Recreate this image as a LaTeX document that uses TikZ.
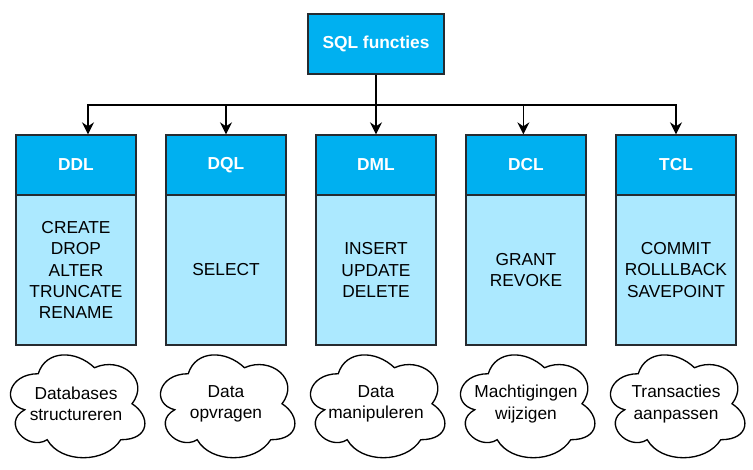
\documentclass[tikz,border=0pt]{standalone}
\usepackage{fontspec}
\setmainfont{Liberation Sans}
\usetikzlibrary{arrows.meta,positioning}
\definecolor{headblue}{RGB}{0,176,240}
\definecolor{bodyblue}{RGB}{172,233,255}
\definecolor{boxline}{RGB}{38,43,48}
\tikzset
{
    headbox/.style  = {rectangle, draw=boxline, fill=headblue, line width=1pt, text=white, align=center, font=\bfseries\fontsize{13}{16}\selectfont, minimum width=90pt, minimum height=45pt},
    bodybox/.style  = {rectangle, draw=boxline, fill=bodyblue, line width=1pt, align=center, font=\fontsize{13}{16}\selectfont, minimum width=90pt, minimum height=112.5pt},
    cloudbox/.style = {rectangle, align=center, font=\fontsize{13}{16}\selectfont, minimum width=112.5pt, minimum height=90pt},
    cloudline/.style = {draw=black, line width=1pt},
    link/.style     = {draw=black, line width=1.1pt, -{Stealth[length=9pt,width=9pt,inset=3pt]}}
}
% cloud outline around a named node
\newcommand{\cloudshape}[1]{%
\draw[cloudline, shift={(#1.north west)}, x=112.5pt, y=-90pt]
 (0.25,0.25) .. controls (0.05,0.25) and (0,0.5) .. (0.16,0.55)
 .. controls (0,0.66) and (0.18,0.9) .. (0.31,0.8)
 .. controls (0.4,1) and (0.7,1) .. (0.8,0.8)
 .. controls (1,0.8) and (1,0.6) .. (0.875,0.5)
 .. controls (1,0.3) and (0.8,0.1) .. (0.625,0.2)
 .. controls (0.5,0.05) and (0.3,0.05) .. (0.25,0.25) -- cycle;}

\begin{document}
\begin{tikzpicture}[x=0.75pt, y=-0.75pt]
\useasboundingbox (0,0) rectangle (753,470);
\newcommand\YH{165}
\newcommand\YT{44}
\node (sql)   [headbox, minimum width=102pt]   at (376,\YT)                    {SQL functies};
\node (ddl)   [headbox]                        at (76,\YH)                     {DDL};
\node (dql)   [headbox]                        at (226,\YH)                    {DQL};
\node (dml)   [headbox]                        at (376,\YH)                    {DML};
\node (dcl)   [headbox]                        at (526,\YH)                    {DCL};
\node (tcl)   [headbox]                        at (676,\YH)                    {TCL};
\node (ddlb)  [bodybox]                        at ([shift=({0,105})]ddl)       {CREATE\\DROP\\ALTER\\TRUNCATE\\RENAME};
\node (dqlb)  [bodybox]                        at ([shift=({0,105})]dql)       {SELECT};
\node (dmlb)  [bodybox]                        at ([shift=({0,105})]dml)       {INSERT\\UPDATE\\DELETE};
\node (dclb)  [bodybox]                        at ([shift=({0,105})]dcl)       {GRANT\\REVOKE};
\node (tclb)  [bodybox]                        at ([shift=({0,105})]tcl)       {COMMIT\\ROLLLBACK\\SAVEPOINT};
\node (ddlc)  [cloudbox]                       at ([shift=({0,134})]ddlb)      {Databases\\structureren};
\node (dqlc)  [cloudbox]                       at ([shift=({0,134})]dqlb)      {Data\\opvragen};
\node (dmlc)  [cloudbox]                       at ([shift=({0,134})]dmlb)      {Data\\manipuleren};
\node (dclc)  [cloudbox]                       at ([shift=({0,134})]dclb)      {Machtigingen\\wijzigen};
\node (tclc)  [cloudbox]                       at ([shift=({0,134})]tclb)      {Transacties\\aanpassen};
\cloudshape{ddlc}
\cloudshape{dqlc}
\cloudshape{dmlc}
\cloudshape{dclc}
\cloudshape{tclc}

\coordinate (split) at (376,105);
\draw[link] (sql) -- (dml);
\draw[link] (split) -| ([xshift=9pt]ddl.north);
\draw[link] (split) -| (dql.north);
\draw[link] (split) -| ([xshift=-2pt]dcl.north);
\draw[link] (split) -| (tcl.north);
\end{tikzpicture}
\end{document}
